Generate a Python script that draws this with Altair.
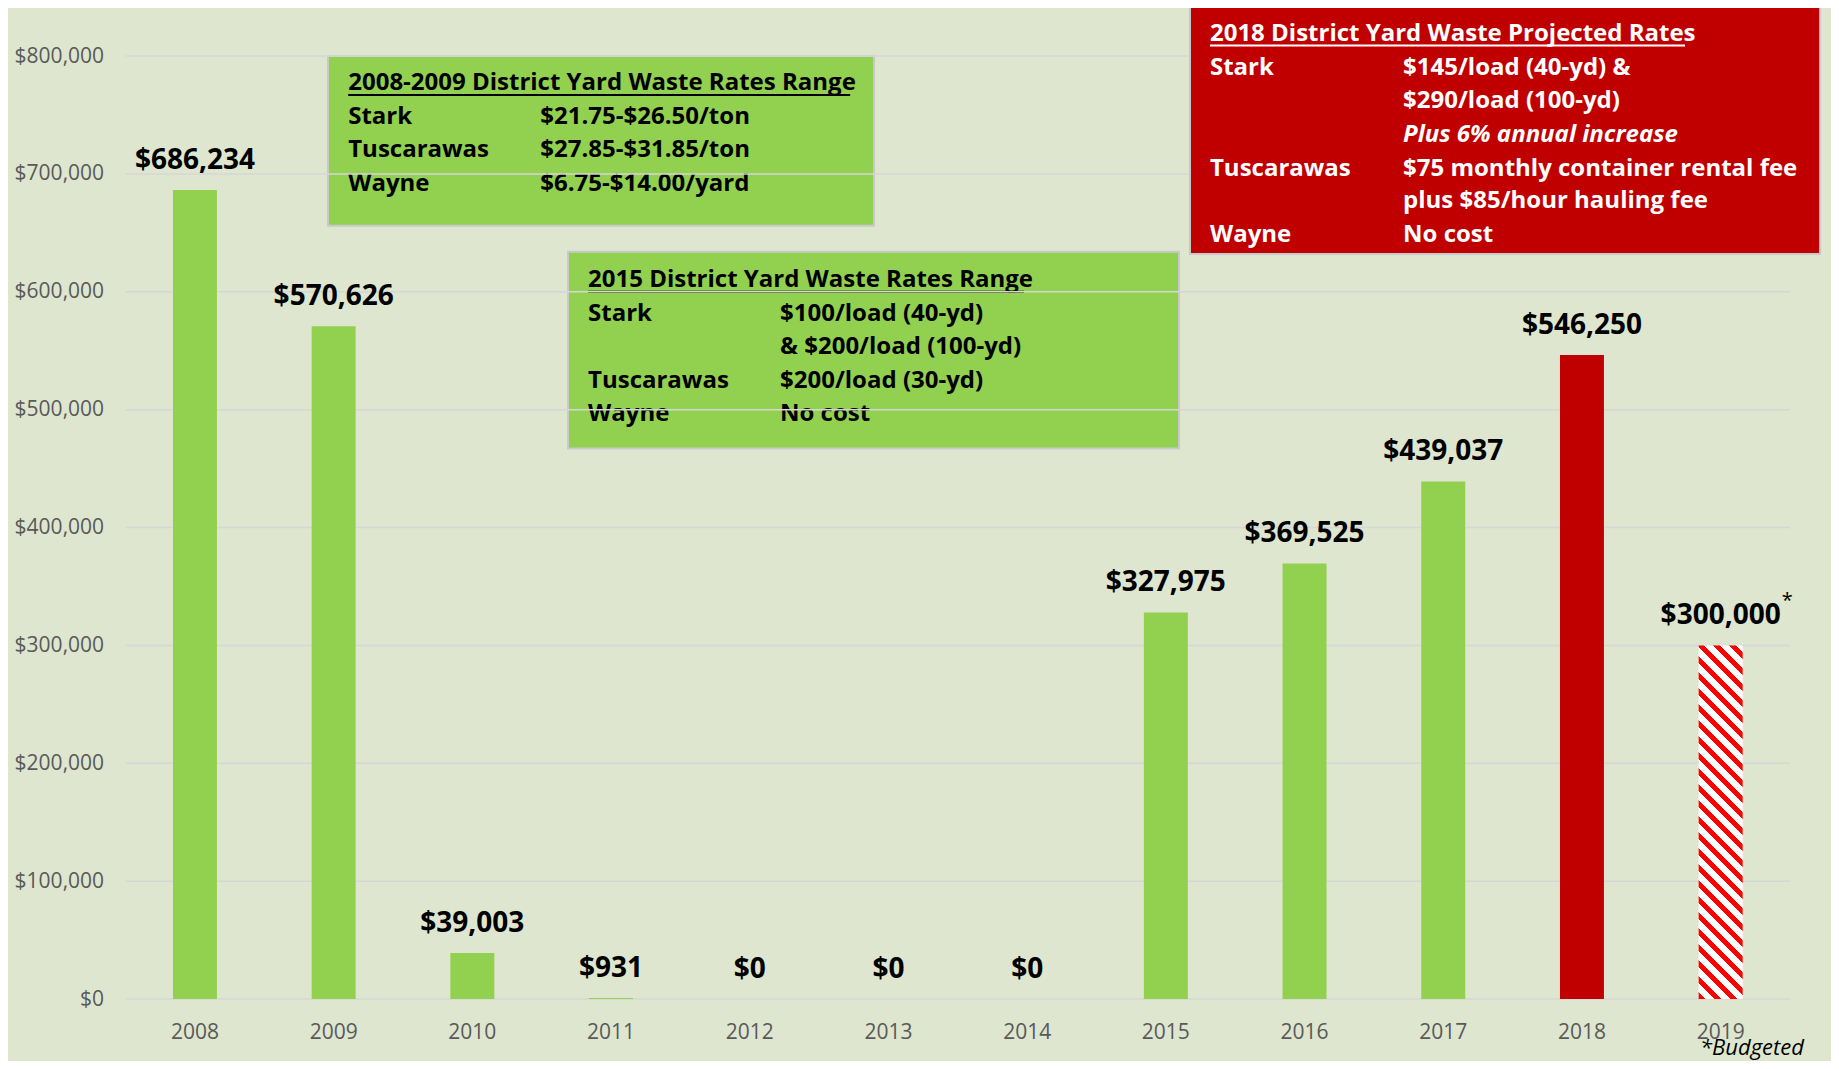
import altair as alt
import pandas as pd

# ---------------- data ----------------
years = ["2008", "2009", "2010", "2011", "2012", "2013", "2014",
         "2015", "2016", "2017", "2018", "2019"]
costs = [686234, 570626, 39003, 931, 0, 0, 0, 327975, 369525, 439037, 546250, 300000]
kinds = ["actual"] * 10 + ["projected", "budgeted"]
y_ticks = [0, 100000, 200000, 300000, 400000, 500000, 600000, 700000, 800000]

box1_title = "2008-2009 District Yard Waste Rates Range"
box1_names = ["Stark", "Tuscarawas", "Wayne"]
box1_rates = ["$21.75-$26.50/ton", "$27.85-$31.85/ton", "$6.75-$14.00/yard"]

box2_title = "2015 District Yard Waste Rates Range"
box2_names = ["Stark", "", "Tuscarawas", "Wayne"]
box2_rates = ["$100/load (40-yd)", "& $200/load (100-yd)", "$200/load (30-yd)", "No cost"]

box3_title = "2018 District Yard Waste Projected Rates"
box3_names = ["Stark", "", "", "Tuscarawas", "", "Wayne"]
box3_rates = ["$145/load (40-yd) &", "$290/load (100-yd)", "Plus 6% annual increase",
              "$75 monthly container rental fee", "plus $85/hour hauling fee", "No cost"]
box3_italic = [False, False, True, False, False, False]

footnote = "*Budgeted"

# ---------------- layout (annotation positions in category units / dollars) ----------------
W, H = 1664.4, 943
PAD_IN = 0.683
BOX1 = dict(x=1.459, x2=5.396, y=800000, y2=656000, c1=1.605, c2=2.99,
            ty=777000, rows=[748000, 720000, 691000], ul=(1.605, 5.224, 767000))
BOX2 = dict(x=3.190, x2=7.595, y=634000, y2=467000, c1=3.334, c2=4.718,
            ty=610000, rows=[581000, 553000, 524000, 496000], ul=(3.334, 6.477, 600000))
BOX3 = dict(x=7.674, x2=12.217, y=842000, y2=632000, c1=7.818, c2=9.210,
            ty=819000, rows=[790000, 762000, 733000, 704000, 677000, 648000],
            ul=(7.818, 11.243, 809000))
FOOT = dict(x=11.351, y=-47500)

GREEN = "#92D050"
DARKRED = "#C00000"
HATCH_RED = "#FF0000"
BG = "#DEE6CF"
GRID = "#D6D6D6"
FONT = "Open Sans"
BOXFS = 24

xq = alt.Scale(domain=[0, 12], nice=False, zero=False)
ys = alt.Scale(domain=[0, 800000], nice=False, zero=False)
xb = alt.Scale(domain=years, paddingInner=PAD_IN, paddingOuter=PAD_IN / 2)

y_axis = alt.Axis(title=None, values=y_ticks, format="$,.0f", domain=False,
                  ticks=False, tickSize=0, grid=False, labelPadding=22,
                  labelFont=FONT, labelFontSize=21, labelColor="#595959")

df = pd.DataFrame({"year": years, "cost": costs, "kind": kinds})

# ---------------- hatch gradient for budgeted bar ----------------
step = W / len(years)
bar_w = step * (1 - PAD_IN)
bar_h = H * costs[-1] / 800000
ratio = bar_h / bar_w
a = (1 + ratio) / (1 + ratio ** 2)
period = 16.0 / (bar_w + bar_h)
stops = []
k = 0
while k * period < 1:
    s = k * period
    m = min(s + 0.42 * period, 1.0)
    e = min((k + 1) * period, 1.0)
    stops += [{"offset": s, "color": HATCH_RED}, {"offset": m, "color": HATCH_RED},
              {"offset": m, "color": "#FFFFFF"}, {"offset": e, "color": "#FFFFFF"}]
    k += 1
hatch_fill = {"gradient": "linear", "x1": 0, "y1": 1, "x2": a, "y2": 1 - ratio * a,
              "stops": stops}


# ---------------- helpers for annotation boxes ----------------
def box_rect(boxes, fill):
    d = pd.DataFrame([{"x": b["x"], "x2": b["x2"], "y": b["y"], "y2": b["y2"]} for b in boxes])
    return alt.Chart(d).mark_rect(fill=fill, stroke="#C9C9C9", strokeWidth=2).encode(
        x=alt.X("x:Q", scale=xq, axis=None), x2="x2:Q",
        y=alt.Y("y:Q", scale=ys, axis=y_axis), y2="y2:Q")


def box_text(rows, color, style="normal"):
    d = pd.DataFrame(rows, columns=["x", "y", "t"])
    return alt.Chart(d).mark_text(align="left", baseline="middle", font=FONT, fontSize=BOXFS,
                                  fontWeight="bold", fontStyle=style, color=color).encode(
        x=alt.X("x:Q", scale=xq, axis=None),
        y=alt.Y("y:Q", scale=ys, axis=y_axis),
        text="t:N")


def underline(boxes, color):
    d = pd.DataFrame([{"x": b["ul"][0], "x2": b["ul"][1], "y": b["ul"][2]} for b in boxes])
    return alt.Chart(d).mark_rule(color=color, strokeWidth=2).encode(
        x=alt.X("x:Q", scale=xq, axis=None), x2="x2:Q",
        y=alt.Y("y:Q", scale=ys, axis=y_axis))


def rows_for(box, title, names, rates, mask=None):
    out = [(box["c1"], box["ty"], title)]
    for i, (n, r) in enumerate(zip(names, rates)):
        if mask is not None and mask[i]:
            continue
        if n:
            out.append((box["c1"], box["rows"][i], n))
        out.append((box["c2"], box["rows"][i], r))
    return out


green_rows = rows_for(BOX1, box1_title, box1_names, box1_rates) + \
    rows_for(BOX2, box2_title, box2_names, box2_rates)
red_rows = rows_for(BOX3, box3_title, box3_names, box3_rates, mask=box3_italic)
red_italic_rows = [(BOX3["c2"], BOX3["rows"][i], r)
                   for i, r in enumerate(box3_rates) if box3_italic[i]]

# ---------------- layers ----------------
green_boxes = box_rect([BOX1, BOX2], GREEN)
green_text = box_text(green_rows, "#000000")
green_ul = underline([BOX1, BOX2], "#000000")

gridlines = alt.Chart(pd.DataFrame({"tick": y_ticks})).mark_rule(
    color=GRID, strokeWidth=1.5).encode(y=alt.Y("tick:Q", scale=ys, axis=y_axis))

bars = alt.Chart(df).transform_filter("datum.kind != 'budgeted'").mark_bar().encode(
    x=alt.X("year:N", scale=xb, sort=years,
            axis=alt.Axis(title=None, labelAngle=0, domain=False, ticks=False, tickSize=0,
                          labelPadding=22, labelFont=FONT, labelFontSize=21,
                          labelColor="#595959", grid=False)),
    y=alt.Y("cost:Q", scale=ys, axis=y_axis),
    color=alt.Color("kind:N", scale=alt.Scale(domain=["actual", "projected"],
                                              range=[GREEN, DARKRED]), legend=None))

hatch = alt.Chart(df).transform_filter("datum.kind == 'budgeted'").mark_bar(
    fill=hatch_fill).encode(
    x=alt.X("year:N", scale=xb, sort=years, axis=None),
    y=alt.Y("cost:Q", scale=ys, axis=y_axis))

labels = alt.Chart(df).mark_text(baseline="alphabetic", dy=-21, font=FONT, fontSize=28,
                                 fontWeight="bold", color="#000000").encode(
    x=alt.X("year:N", scale=xb, sort=years, axis=None),
    y=alt.Y("cost:Q", scale=ys, axis=y_axis),
    text=alt.Text("cost:Q", format="$,.0f"))

asterisk = alt.Chart(df).transform_filter("datum.kind == 'budgeted'").mark_text(
    align="left", baseline="alphabetic", dx=61, dy=-38, font=FONT, fontSize=20,
    color="#000000").encode(
    x=alt.X("year:N", scale=xb, sort=years, axis=None),
    y=alt.Y("cost:Q", scale=ys, axis=y_axis),
    text=alt.value("*"))

red_box = box_rect([BOX3], DARKRED)
red_text = box_text(red_rows, "#FFFFFF")
red_text_it = box_text(red_italic_rows, "#FFFFFF", style="italic")
red_ul = underline([BOX3], "#FFFFFF")

foot = alt.Chart(pd.DataFrame({"x": [FOOT["x"]], "y": [FOOT["y"]], "t": [footnote]})).mark_text(
    align="left", baseline="alphabetic", font=FONT, fontSize=22, fontStyle="italic",
    color="#000000").encode(
    x=alt.X("x:Q", scale=xq, axis=None),
    y=alt.Y("y:Q", scale=ys, axis=y_axis),
    text="t:N")

chart = alt.layer(
    green_boxes, green_text, green_ul, gridlines, bars, hatch, labels, asterisk,
    red_box, red_text, red_text_it, red_ul, foot
).resolve_scale(x="independent").properties(
    width=W, height=H,
    autosize=alt.AutoSizeParams(type="none"),
    padding={"left": 117.6, "top": 48, "right": 41, "bottom": 62},
).configure(background=BG).configure_view(strokeWidth=0)

chart.save("out.html", embed_options={"renderer": "svg", "actions": False})
